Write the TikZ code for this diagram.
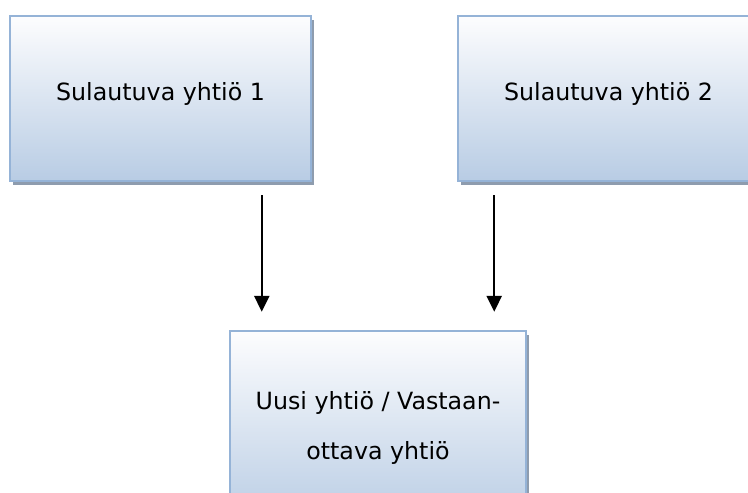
\documentclass[tikz,border=0pt]{standalone}
\usepackage{fontspec}
\setmainfont{DejaVu Sans}
\usetikzlibrary{arrows.meta,shadows}
\definecolor{reuna}{HTML}{95B3D7}
\definecolor{ylhaa}{HTML}{FDFDFE}
\definecolor{alhaa}{HTML}{B8CCE4}
\definecolor{varjo}{HTML}{8E9CAE}
\begin{document}
\begin{tikzpicture}[x=0.02cm,y=-0.02cm]
\tikzstyle{yhtio}=[draw=reuna, line width=0.05cm, top color=ylhaa, bottom color=alhaa,
  drop shadow={shadow xshift=0.06cm, shadow yshift=-0.08cm, fill=varjo, opacity=1},
  inner sep=0pt, font=\fontsize{13.5}{28.4}\selectfont, align=center]
\tikzstyle{pil}=[-{Triangle[length=0.32cm,width=0.3cm]}, line width=0.05cm]
\clip (0,0) rectangle (748,493);
\fill[white] (0,0) rectangle (748,493);

\node[yhtio, minimum width=6.02cm, minimum height=3.3cm, text depth=0.3cm] (S1) at (160.5,98.5) {Sulautuva yhtiö 1};
\node[yhtio, minimum width=6.02cm, minimum height=3.3cm, text depth=0.3cm] (S2) at (608.5,98.5) {Sulautuva yhtiö 2};

\node[yhtio, minimum width=5.92cm, minimum height=3.88cm] (U) at (378,428) {Uusi yhtiö / Vastaan-\\ottava yhtiö};

\draw[pil, shorten <=0.26cm, shorten >=0.36cm] ([xshift=0.66cm]U.north west |- S1.south) -- ([xshift=0.66cm]U.north west);
\draw[pil, shorten <=0.26cm, shorten >=0.36cm] ([xshift=-0.66cm]U.north east |- S2.south) -- ([xshift=-0.66cm]U.north east);
\end{tikzpicture}
\end{document}
